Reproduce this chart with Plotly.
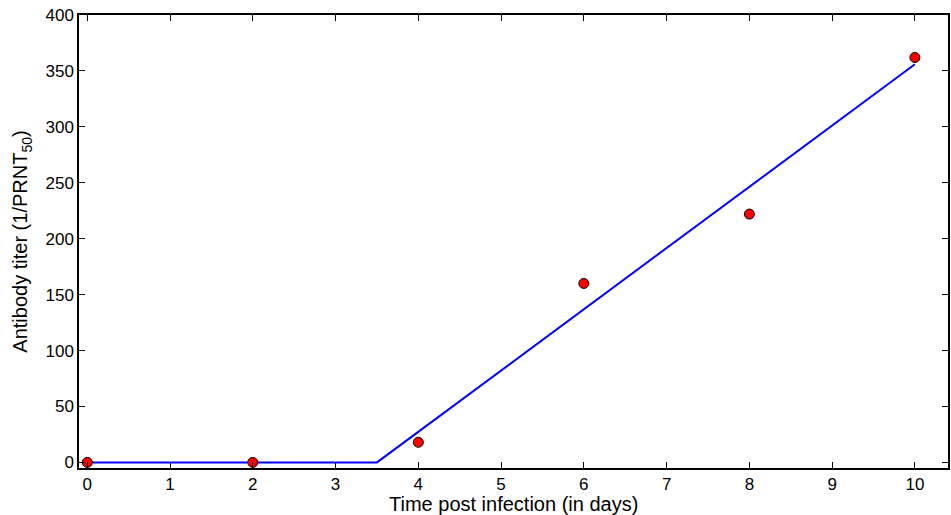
import plotly.graph_objects as go

days = [0, 2, 4, 6, 8, 10]
titer = [0, 0, 18, 160, 222, 362]
fit_x = [0, 3.5, 10]
fit_y = [0, 0, 356]
x_ticks = list(range(0, 11))
y_ticks = list(range(0, 401, 50))

fig = go.Figure()
fig.add_trace(go.Scatter(x=fit_x, y=fit_y, mode="lines",
                         line=dict(color="#0000ff", width=2), showlegend=False))
fig.add_trace(go.Scatter(x=days, y=titer, mode="markers",
                         marker=dict(color="#ff0000", size=10, line=dict(color="black", width=1)),
                         showlegend=False))

axis_common = dict(showgrid=False, zeroline=False, showline=True, linecolor="black", linewidth=1.5,
                   mirror="ticks", ticks="inside", ticklen=6, tickcolor="black", tickwidth=1,
                   tickfont=dict(family="Liberation Sans, Arial", size=17, color="black"))
fig.update_xaxes(range=[-0.1, 10.4], tickvals=x_ticks, **axis_common)
fig.update_yaxes(range=[-5, 400], tickvals=y_ticks, ticklabelstandoff=0, **axis_common,
                 title=dict(text="Antibody titer (1/PRNT<sub>50</sub>)", standoff=12,
                            font=dict(family="Liberation Sans, Arial", size=20, color="black")))
fig.add_annotation(text="Time post infection (in days)", xref="paper", yref="paper",
                   x=0.5, y=-0.079, xanchor="center", yanchor="middle", showarrow=False,
                   borderpad=0,
                   font=dict(family="Liberation Sans, Arial", size=20, color="black"))
fig.update_layout(width=951, height=515, margin=dict(l=79, r=1, t=15, b=47),
                  plot_bgcolor="white", paper_bgcolor="white")
fig.write_html("out.html")
